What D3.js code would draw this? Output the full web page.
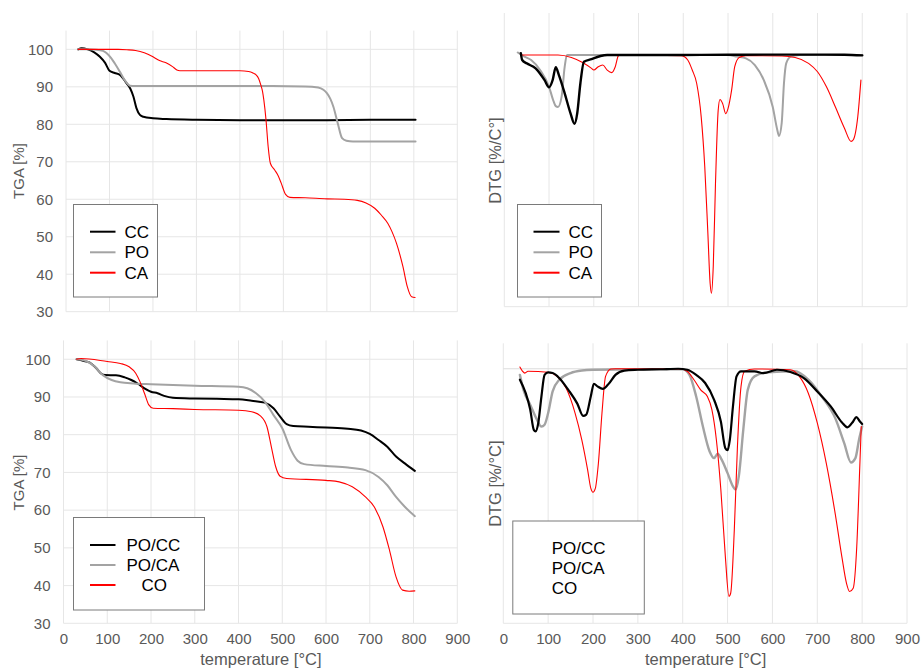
<!DOCTYPE html>
<html>
<head>
<meta charset="utf-8">
<script src="https://cdn.jsdelivr.net/npm/d3@7"></script>
<style>
  html, body { margin: 0; padding: 0; background: #fff; }
  svg { display: block; font-family: "Liberation Sans", Arial, sans-serif; }
</style>
</head>
<body>
<svg id="chart" width="921" height="671"></svg>
<script>
// ---------- DATA (temperature °C, value) ----------
const xTicks = [0, 100, 200, 300, 400, 500, 600, 700, 800, 900];
const tgaTicks = [30, 40, 50, 60, 70, 80, 90, 100];

// Top-left TGA
const tgaCC = [[28,100],[36,100.3],[50,100],[65,99.2],[78,98],[90,96.4],[100,94.3],[112,93.7],[124,93.2],[139,91],[148,89.5],[155,87.4],[162,84.3],[170,82.5],[178,82],[200,81.6],[231,81.4],[300,81.2],[400,81.1],[500,81.1],[600,81.1],[700,81.2],[804,81.2]];
const tgaPO = [[28,100],[50,100],[70,99.9],[85,99.6],[93,99],[103,97.8],[112,96.3],[124,94],[135,91.8],[147,90.3],[160,90.2],[300,90.2],[450,90.2],[550,90.1],[580,89.8],[592,89.2],[600,88.3],[608,86.8],[615,84.7],[625,80.3],[635,76.3],[645,75.6],[660,75.4],[804,75.4]];
const tgaCA = [[28,100],[80,100],[120,100],[140,99.9],[160,99.7],[180,99.1],[200,98],[215,97],[230,96.4],[245,95.4],[255,94.5],[262,94.3],[300,94.3],[400,94.3],[420,94.1],[430,93.7],[437,93.2],[443,92.2],[448,90.5],[452,88.8],[455,86.5],[460,81.2],[465,74],[470,69.6],[480,67.8],[488,66.3],[495,64.3],[505,61.3],[515,60.5],[550,60.4],[600,60.1],[640,60],[670,59.7],[690,59],[710,57.6],[725,55.8],[740,53.6],[750,51.3],[760,48.3],[775,42],[785,36.7],[795,34],[803,33.8]];

// Top-right DTG (arbitrary %/°C)
const dtgCC = [[37,0.02],[40,-0.06],[50,-0.1],[70,-0.16],[90,-0.3],[100,-0.385],[108,-0.3],[115,-0.147],[122,-0.24],[135,-0.457],[148,-0.695],[157,-0.82],[163,-0.695],[170,-0.34],[178,-0.08],[195,-0.05],[215,-0.012],[230,0],[300,0],[400,0],[500,0.002],[600,0.004],[700,0.004],[760,0.003],[800,-0.005]];
const dtgPO = [[30,0.03],[45,-0.02],[60,-0.06],[80,-0.18],[100,-0.38],[110,-0.55],[115,-0.61],[120,-0.62],[128,-0.5],[135,-0.14],[140,0],[300,0],[500,0],[520,-0.02],[540,-0.04],[560,-0.12],[580,-0.3],[600,-0.62],[610,-0.89],[614,-0.965],[620,-0.81],[625,-0.34],[630,-0.1],[640,-0.02],[660,0],[800,0]];
const dtgCA = [[40,0],[120,0],[150,-0.03],[175,-0.09],[195,-0.16],[200,-0.18],[210,-0.14],[220,-0.12],[230,-0.18],[240,-0.21],[248,-0.14],[255,-0.01],[260,0],[395,-0.008],[410,-0.06],[420,-0.18],[430,-0.34],[440,-0.735],[448,-1.33],[455,-2.13],[460,-2.72],[463,-2.84],[467,-2.52],[472,-1.53],[478,-0.66],[482,-0.53],[488,-0.58],[495,-0.7],[500,-0.64],[508,-0.42],[515,-0.14],[525,-0.03],[540,-0.008],[620,-0.012],[650,-0.03],[680,-0.1],[700,-0.2],[720,-0.38],[740,-0.62],[760,-0.87],[775,-1.03],[780,-1.01],[790,-0.735],[797,-0.3]];

// Bottom-left TGA
const tgaPOCC = [[30,100],[45,99.6],[60,99.1],[75,97.6],[85,96.3],[95,95.8],[120,95.75],[140,95.2],[155,94.5],[170,93.5],[185,92.3],[200,91.4],[215,91],[230,90.3],[250,89.8],[300,89.6],[350,89.5],[400,89.4],[430,89],[460,88.5],[480,87],[495,84.8],[510,82.8],[525,82.3],[560,82.1],[600,81.9],[650,81.6],[680,81.1],[700,80.2],[720,78.6],[740,76.8],[760,74.2],[780,72.4],[803,70.4]];
const tgaPOCA = [[30,100],[50,99.6],[70,98.2],[90,95.8],[110,94.5],[130,93.9],[160,93.6],[200,93.4],[300,93],[400,92.7],[420,92.3],[440,91],[460,88.8],[480,85.2],[500,81.7],[520,75.9],[535,73.1],[550,72.2],[600,71.7],[650,71.3],[690,70.6],[720,68.8],[740,66.6],[760,63.5],[780,60.9],[800,58.7],[803,58.4]];
const tgaCO = [[30,100],[40,100.2],[100,99.4],[130,98.9],[150,98],[165,96.3],[175,94],[185,91],[195,87.9],[205,87],[250,86.9],[300,86.7],[400,86.5],[430,86.1],[450,85],[465,82.1],[475,76.8],[485,71.5],[495,69],[510,68.4],[600,67.9],[630,67.5],[660,66.2],[690,63.5],[710,60.9],[730,55.6],[745,49.4],[760,42.3],[775,38.8],[790,38.5],[803,38.6]];

// Bottom-right DTG
const dtgPOCC = [[37,-0.043],[50,-0.096],[60,-0.16],[68,-0.24],[72,-0.246],[78,-0.213],[85,-0.109],[92,-0.024],[100,-0.014],[110,-0.017],[125,-0.037],[145,-0.083],[165,-0.137],[178,-0.185],[185,-0.18],[195,-0.109],[202,-0.059],[210,-0.069],[222,-0.079],[235,-0.059],[250,-0.024],[270,-0.007],[300,-0.004],[350,-0.002],[390,0],[410,-0.004],[430,-0.024],[450,-0.056],[470,-0.122],[485,-0.207],[495,-0.312],[500,-0.32],[505,-0.279],[512,-0.148],[520,-0.03],[530,-0.01],[560,-0.01],[580,-0.017],[610,-0.004],[640,-0.013],[670,-0.037],[700,-0.089],[730,-0.148],[755,-0.211],[767,-0.23],[780,-0.207],[787,-0.19],[795,-0.207],[800,-0.217]];
const dtgPOCA = [[37,-0.024],[45,-0.083],[60,-0.141],[75,-0.2],[85,-0.227],[92,-0.22],[100,-0.174],[110,-0.089],[125,-0.043],[150,-0.017],[175,-0.007],[200,-0.004],[300,-0.002],[400,-0.002],[415,-0.024],[430,-0.109],[445,-0.227],[460,-0.325],[470,-0.351],[478,-0.334],[485,-0.351],[500,-0.41],[512,-0.462],[518,-0.475],[525,-0.423],[535,-0.24],[545,-0.083],[560,-0.03],[590,-0.014],[650,-0.01],[680,-0.043],[710,-0.109],[740,-0.194],[760,-0.292],[775,-0.368],[785,-0.351],[793,-0.279],[800,-0.227]];
const dtgCO = [[37,0.007],[43,-0.01],[48,-0.017],[55,-0.01],[100,-0.014],[120,-0.03],[140,-0.076],[160,-0.174],[175,-0.279],[188,-0.397],[195,-0.469],[200,-0.485],[205,-0.471],[212,-0.371],[220,-0.174],[228,-0.03],[240,-0.001],[250,0],[395,-0.001],[410,-0.01],[425,-0.043],[440,-0.083],[455,-0.109],[465,-0.161],[475,-0.279],[485,-0.475],[495,-0.737],[503,-0.894],[507,-0.881],[515,-0.633],[522,-0.305],[530,-0.069],[538,-0.01],[560,-0.001],[640,-0.004],[660,-0.03],[680,-0.096],[700,-0.213],[720,-0.371],[740,-0.57],[755,-0.741],[765,-0.842],[772,-0.875],[780,-0.862],[788,-0.698],[795,-0.371],[798,-0.227]];

const topLegend = ["CC", "PO", "CA"];
const bottomLegend = ["PO/CC", "PO/CA", "CO"];

// ---------- STYLE ----------
const BLACK = "#000000", GREY = "#a3a3a3", RED = "#ff0000";
const GRID = "#e6e6e6", TICK = "#595959";

const svg = d3.select("#chart");

const panels = [
  { id: "tl", x0: 66, x1: 457.3, yDom: [30, 105], yRange: [311.7, 30.6], hGrid: true, xLabels: false,
    yLabel: "TGA [%]", yLabelX: 24, yLabelY: 171, yLabelSize: 15,
    series: [[tgaCC, BLACK, 2], [tgaPO, GREY, 2], [tgaCA, RED, 1.1]],
    legend: { x: 73.5, y: 204.5, w: 84, h: 92.5, lines: true, lx0: 90, lx1: 115.5, tx: 124.5, ys: [231.7, 252.3, 272.7], names: topLegend, anchors: ["start","start","start"] } },
  { id: "bl", x0: 63.5, x1: 457.3, yDom: [30, 105], yRange: [623.3, 340.4], hGrid: true, xLabels: true,
    yLabel: "TGA [%]", yLabelX: 24, yLabelY: 482.5, yLabelSize: 15,
    series: [[tgaPOCC, BLACK, 2], [tgaPOCA, GREY, 2], [tgaCO, RED, 1.1]],
    legend: { x: 73.5, y: 517.5, w: 131, h: 92.5, lines: true, lx0: 90, lx1: 115.5, tx: 126.5, ys: [545, 565, 585], names: bottomLegend, anchors: ["start","start","start"], xs: [126.5, 126.5, 141.5] } },
  { id: "tr", x0: 504.3, x1: 907, yDom: [-3, 0.5], yRange: [306.7, 13], hGrid: false, zeroLine: false, xLabels: false,
    yLabel: "DTG [%/C°]", yLabelX: 500.5, yLabelY: 160.5, yLabelSize: 16.5,
    series: [[dtgPO, GREY, 2], [dtgCA, RED, 1.1], [dtgCC, BLACK, 2.4]],
    legend: { x: 517.5, y: 204.5, w: 84, h: 92.5, lines: true, lx0: 533.5, lx1: 559.5, tx: 568.5, ys: [231.7, 252.3, 272.7], names: topLegend, anchors: ["start","start","start"] } },
  { id: "br", x0: 503.3, x1: 907, yDom: [-1, 0.1], yRange: [623.3, 343.3], hGrid: false, zeroLine: true, xLabels: true,
    yLabel: "DTG [%/°C]", yLabelX: 500.5, yLabelY: 483.7, yLabelSize: 16.5,
    series: [[dtgPOCA, GREY, 2.4], [dtgCO, RED, 1.1], [dtgPOCC, BLACK, 2.2]],
    legend: { x: 512.8, y: 521, w: 131.5, h: 93, lines: false, tx: 551.7, ys: [548.3, 568.3, 588.3], names: bottomLegend, anchors: ["start","start","start"] } }
];

const seriesColors = [BLACK, GREY, RED];

panels.forEach(p => {
  const g = svg.append("g").attr("class", p.id);
  const x = d3.scaleLinear().domain([0, 900]).range([p.x0, p.x1]);
  const y = d3.scaleLinear().domain(p.yDom).range(p.yRange);
  const yTop = p.yRange[1], yBot = p.yRange[0];

  // vertical gridlines
  g.append("g").selectAll("line").data(xTicks).join("line")
    .attr("x1", d => x(d)).attr("x2", d => x(d))
    .attr("y1", yTop).attr("y2", yBot)
    .attr("stroke", GRID).attr("stroke-width", 1);

  // horizontal gridlines + y tick labels
  if (p.hGrid) {
    g.append("g").selectAll("line").data(tgaTicks).join("line")
      .attr("x1", x(0)).attr("x2", x(900))
      .attr("y1", d => y(d)).attr("y2", d => y(d))
      .attr("stroke", GRID).attr("stroke-width", 1);
    const yAxis = d3.axisLeft(y).tickValues(tgaTicks).tickSize(0).tickPadding(0);
    const ya = g.append("g").attr("transform", `translate(${x(0) - 13},0)`).call(yAxis);
    ya.select(".domain").remove();
    ya.selectAll("text").attr("fill", TICK).attr("font-size", 15)
      .attr("font-family", "Liberation Sans, Arial, sans-serif");
  } else {
    // bottom boundary line
    g.append("line").attr("x1", x(0)).attr("x2", x(900))
      .attr("y1", yBot).attr("y2", yBot).attr("stroke", GRID).attr("stroke-width", 1);
  }
  if (p.zeroLine) {
    g.append("line").attr("x1", x(0)).attr("x2", x(900))
      .attr("y1", y(0)).attr("y2", y(0)).attr("stroke", "#dcdcdc").attr("stroke-width", 1.2);
  }

  // x tick labels
  if (p.xLabels) {
    const xAxis = d3.axisBottom(x).tickValues(xTicks).tickSize(0).tickPadding(0);
    const xa = g.append("g").attr("transform", `translate(0,${yBot + 10})`).call(xAxis);
    xa.select(".domain").remove();
    xa.selectAll("text").attr("fill", TICK).attr("font-size", 15)
      .attr("font-family", "Liberation Sans, Arial, sans-serif");
    g.append("text").attr("x", (x(0) + x(900)) / 2 + 0.5).attr("y", 665)
      .attr("text-anchor", "middle").attr("fill", TICK).attr("font-size", 16.5)
      .text("temperature [°C]");
  }

  // y label
  g.append("text")
    .attr("transform", `translate(${p.yLabelX},${p.yLabelY}) rotate(-90)`)
    .attr("text-anchor", "middle").attr("fill", TICK).attr("font-size", p.yLabelSize)
    .text(p.yLabel);

  // lines
  const line = d3.line().x(d => x(d[0])).y(d => y(d[1])).curve(d3.curveMonotoneX);
  p.series.forEach(([data, color, w]) => {
    g.append("path").datum(data).attr("d", line)
      .attr("fill", "none").attr("stroke", color).attr("stroke-width", w)
      .attr("stroke-linejoin", "round").attr("stroke-linecap", "round");
  });

  // legend
  const L = p.legend;
  const lg = g.append("g").attr("class", "legend");
  lg.append("rect").attr("x", L.x).attr("y", L.y).attr("width", L.w).attr("height", L.h)
    .attr("fill", "#fff").attr("stroke", "#7a7a7a").attr("stroke-width", 1);
  L.names.forEach((name, i) => {
    if (L.lines) {
      lg.append("line").attr("x1", L.lx0).attr("x2", L.lx1).attr("y1", L.ys[i]).attr("y2", L.ys[i])
        .attr("stroke", seriesColors[i]).attr("stroke-width", 2);
    }
    lg.append("text").attr("x", L.xs ? L.xs[i] : L.tx).attr("y", L.ys[i] + 6)
      .attr("fill", "#000").attr("font-size", 17).text(name);
  });
});
</script>
</body>
</html>
